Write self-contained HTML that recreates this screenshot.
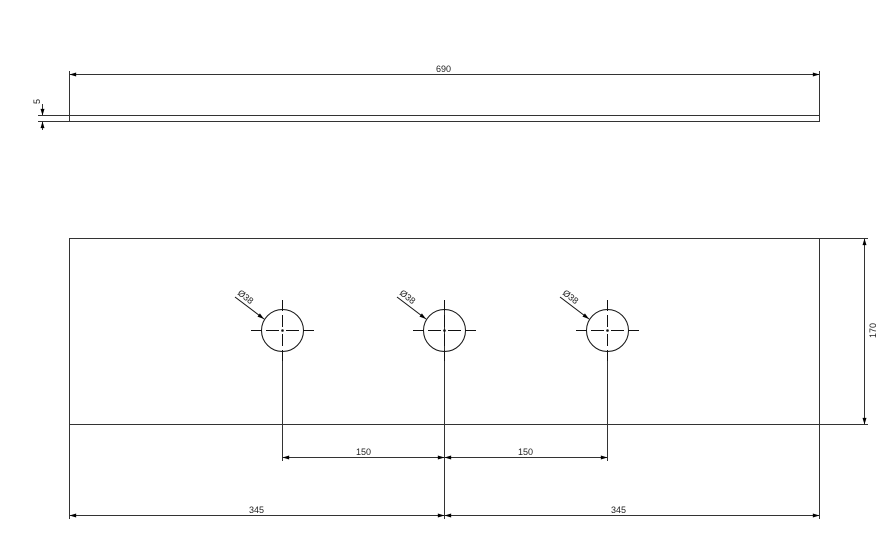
<!DOCTYPE html>
<html><head><style>body{margin:0;background:#fff}svg{display:block}text{font-family:"Liberation Sans",sans-serif;font-size:9px;fill:#222}</style></head>
<body>
<svg width="887" height="539" viewBox="0 0 887 539" xmlns="http://www.w3.org/2000/svg">
<defs>
<marker id="a" viewBox="0 0 10 6" refX="10" refY="3" markerWidth="8" markerHeight="4" orient="auto-start-reverse" markerUnits="userSpaceOnUse"><path d="M0,0L10,3L0,6z" fill="#000"/></marker>
</defs>
<g stroke="#333" stroke-width="1" fill="none">
<!-- top plate -->
<rect x="69.5" y="115.5" width="750" height="6"/>
<line x1="69.5" y1="71" x2="69.5" y2="121"/>
<line x1="819.5" y1="71" x2="819.5" y2="115"/>
<line x1="69.5" y1="74.5" x2="819.5" y2="74.5" marker-start="url(#a)" marker-end="url(#a)"/>
<line x1="38" y1="115.5" x2="69" y2="115.5"/>
<line x1="38" y1="121.5" x2="69" y2="121.5"/>
<line x1="42.5" y1="104" x2="42.5" y2="115.5" marker-end="url(#a)"/>
<line x1="42.5" y1="130" x2="42.5" y2="121.5" marker-end="url(#a)"/>
<!-- plate -->
<rect x="69.5" y="238.5" width="750" height="186"/>
<line x1="819.5" y1="238.5" x2="868" y2="238.5"/>
<line x1="819.5" y1="424.5" x2="868" y2="424.5"/>
<line x1="864.5" y1="238.5" x2="864.5" y2="424.5" marker-start="url(#a)" marker-end="url(#a)"/>
<line x1="69.5" y1="424" x2="69.5" y2="519"/>
<line x1="819.5" y1="424" x2="819.5" y2="519"/>
<line x1="444.5" y1="300" x2="444.5" y2="519"/>
<line x1="282.5" y1="350" x2="282.5" y2="461"/>
<line x1="607.5" y1="350" x2="607.5" y2="461"/>
<line x1="282.5" y1="457.5" x2="444.5" y2="457.5" marker-start="url(#a)" marker-end="url(#a)"/>
<line x1="444.5" y1="457.5" x2="607.5" y2="457.5" marker-start="url(#a)" marker-end="url(#a)"/>
<line x1="69.5" y1="515.5" x2="444.5" y2="515.5" marker-start="url(#a)" marker-end="url(#a)"/>
<line x1="444.5" y1="515.5" x2="819.5" y2="515.5" marker-start="url(#a)" marker-end="url(#a)"/>
</g>
<g stroke="#111" stroke-width="1" fill="none">
<g id="h">
<circle cx="282.5" cy="330.5" r="21"/>
<line x1="251" y1="330.5" x2="262" y2="330.5"/><line x1="266" y1="330.5" x2="279" y2="330.5"/><line x1="286" y1="330.5" x2="299" y2="330.5"/><line x1="303" y1="330.5" x2="314" y2="330.5"/>
<line x1="282.5" y1="300" x2="282.5" y2="311"/><line x1="282.5" y1="315" x2="282.5" y2="327"/><line x1="282.5" y1="334" x2="282.5" y2="346"/><line x1="282.5" y1="350" x2="282.5" y2="361"/>
<line x1="235" y1="297" x2="264" y2="319" marker-end="url(#a)"/>
<circle cx="282.5" cy="330.5" r="0.8" fill="#000"/>
</g>
<use href="#h" x="162"/>
<use href="#h" x="325"/>
</g>
<text x="436" y="72">690</text>
<text x="356" y="455">150</text>
<text x="518" y="455">150</text>
<text x="249" y="513">345</text>
<text x="611" y="513">345</text>
<text transform="translate(40,104) rotate(-90)">5</text>
<text transform="translate(876,338) rotate(-90)">170</text>
<text transform="translate(237,294) rotate(38)">Ø38</text>
<text transform="translate(399,294) rotate(38)">Ø38</text>
<text transform="translate(562,294) rotate(38)">Ø38</text>
</svg>
</body></html>
